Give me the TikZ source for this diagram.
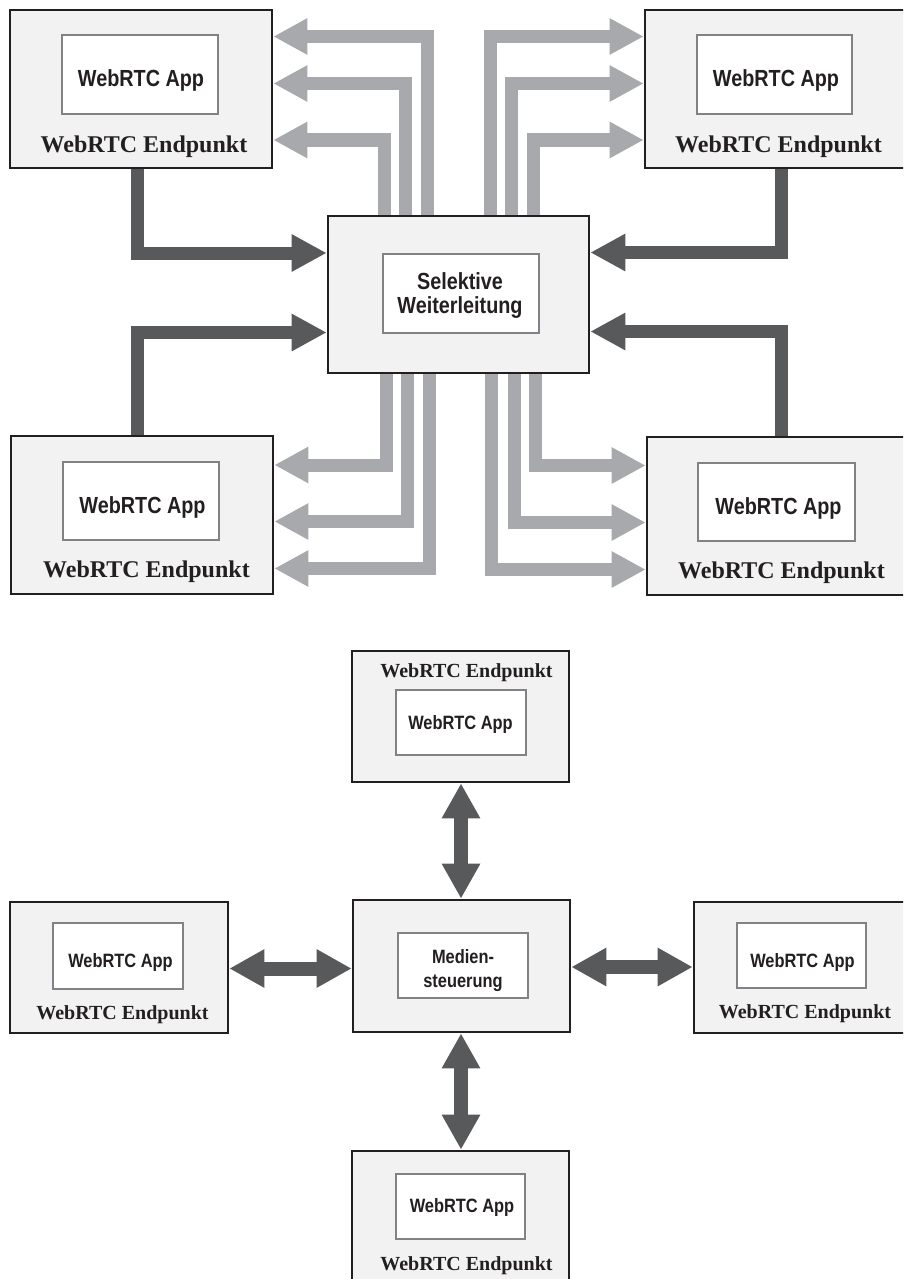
\documentclass[tikz,border=0pt]{standalone}
\usepackage{fontspec}
\setmainfont{Liberation Serif}
\newfontfamily\appfont{Liberation Sans}[FakeStretch=0.85]
\usetikzlibrary{arrows.meta}
\definecolor{edgec}{HTML}{231F20}
\definecolor{boxc}{HTML}{F2F2F2}
\definecolor{innerc}{HTML}{808285}
\definecolor{darkc}{HTML}{58595B}
\definecolor{greyc}{HTML}{A7A9AC}
\definecolor{txtc}{HTML}{231F20}
\begin{document}
\begin{tikzpicture}[x=1pt,y=-1pt,
  ep/.style={draw=edgec, line width=2.6pt, fill=boxc, inner sep=0pt},
  appbox/.style={draw=innerc, line width=1.2pt, fill=white, inner sep=0pt},
  eptxt/.style={anchor=base, inner sep=0pt, text=txtc, font=\bfseries\fontsize{24}{28}\selectfont},
  eptxts/.style={anchor=base, inner sep=0pt, text=txtc, font=\bfseries\fontsize{20}{24}\selectfont},
  aptxt/.style={anchor=base, inner sep=0pt, text=txtc, font=\appfont\bfseries\fontsize{23.3}{24}\selectfont},
  aptxts/.style={anchor=base, inner sep=0pt, text=txtc, font=\appfont\bfseries\fontsize{19.3}{23}\selectfont},
  dk/.style={draw=darkc, line width=13pt, line join=miter, -{Triangle[length=35pt,width=35pt]}},
  lg/.style={draw=greyc, line width=13pt, line join=miter, -{Triangle[length=34pt,width=34pt]}},
  dbl/.style={draw=darkc, line width=14pt, {Triangle[length=35pt,width=36pt]}-{Triangle[length=35pt,width=36pt]}}
]
\clip (0,0) rectangle (903,1279);
\fill[white] (0,0) rectangle (903,1279);

% ---------- top section ----------
\node[ep, minimum width=262pt, minimum height=158pt] (tl) at (141,89) {};
\node[appbox, minimum width=156pt, minimum height=79pt] (tla) at (140,74.5) {};
\node[aptxt] (tlat) at (141,87) {WebRTC App};
\node[eptxt] (tlt) at (144,152) {WebRTC Endpunkt};

\node[ep, minimum width=260pt, minimum height=158pt] (tr) at (775,89) {};
\node[appbox, minimum width=155pt, minimum height=79pt] (tra) at (774.5,74.5) {};
\node[aptxt] (trat) at (776,87) {WebRTC App};
\node[eptxt] (trt) at (778.5,152) {WebRTC Endpunkt};

\node[ep, minimum width=261pt, minimum height=157pt] (sel) at (458.5,294.5) {};
\node[appbox, minimum width=156pt, minimum height=79pt] (sela) at (461,293.5) {};
\node[inner sep=0pt, text=txtc, align=center, font=\appfont\bfseries\fontsize{23.3}{24}\selectfont] (selt) at (460,296) {Selektive\\Weiterleitung};

\node[ep, minimum width=262pt, minimum height=158pt] (bl) at (142,515) {};
\node[appbox, minimum width=156pt, minimum height=78pt] (bla) at (141,501) {};
\node[aptxt] (blat) at (142.5,513) {WebRTC App};
\node[eptxt] (blt) at (146.5,577) {WebRTC Endpunkt};

\node[ep, minimum width=259pt, minimum height=158pt] (br) at (776.5,516) {};
\node[appbox, minimum width=157pt, minimum height=78pt] (bra) at (776.5,502) {};
\node[aptxt] (brat) at (778.5,514) {WebRTC App};
\node[eptxt] (brt) at (781.5,578) {WebRTC Endpunkt};

% grey forwarding arrows
\coordinate (g1) at (427.5,36.5);
\coordinate (g2) at (405.5,83.5);
\coordinate (g3) at (384.5,140);
\coordinate (g4) at (490,36.5);
\coordinate (g5) at (511.5,83.5);
\coordinate (g6) at (533.5,140);
\coordinate (g7) at (386,465);
\coordinate (g8) at (407.5,521.5);
\coordinate (g9) at (429.5,568.5);
\coordinate (g10) at (535,465.5);
\coordinate (g11) at (514,522.5);
\coordinate (g12) at (491.5,569.5);
\draw[lg] (sel.north -| g1) |- (tl.east |- g1);
\draw[lg] (sel.north -| g2) |- (tl.east |- g2);
\draw[lg] (sel.north -| g3) |- (tl.east |- g3);
\draw[lg] (sel.north -| g4) |- (tr.west |- g4);
\draw[lg] (sel.north -| g5) |- (tr.west |- g5);
\draw[lg] (sel.north -| g6) |- (tr.west |- g6);
\draw[lg] (sel.south -| g7) |- (bl.east |- g7);
\draw[lg] (sel.south -| g8) |- (bl.east |- g8);
\draw[lg] (sel.south -| g9) |- (bl.east |- g9);
\draw[lg] (sel.south -| g10) |- (br.west |- g10);
\draw[lg] (sel.south -| g11) |- (br.west |- g11);
\draw[lg] (sel.south -| g12) |- (br.west |- g12);

% dark upstream arrows
\coordinate (k1) at (137,253);
\coordinate (k2) at (781,252.5);
\coordinate (k3) at (137,332.5);
\coordinate (k4) at (781,331.5);
\draw[dk] (tl.south -| k1) |- (sel.west |- k1);
\draw[dk] (tr.south -| k2) |- (sel.east |- k2);
\draw[dk] (bl.north -| k3) |- (sel.west |- k3);
\draw[dk] (br.north -| k4) |- (sel.east |- k4);

% ---------- bottom section ----------
\node[ep, minimum width=217pt, minimum height=131pt] (bt) at (460.5,716.5) {};
\node[appbox, minimum width=130pt, minimum height=65pt] (bta) at (461,722.5) {};
\node[eptxts] (btt) at (466.5,677) {WebRTC Endpunkt};
\node[aptxts] (btat) at (460.5,729) {WebRTC App};

\node[ep, minimum width=217pt, minimum height=132pt] (bc) at (461.5,966) {};
\node[appbox, minimum width=130pt, minimum height=65pt] (bca) at (463,965.5) {};
\node[inner sep=0pt, text=txtc, align=center, font=\appfont\bfseries\fontsize{19.3}{24}\selectfont] (bct) at (463,971) {Medien-\\steuerung};

\node[ep, minimum width=218pt, minimum height=131pt] (ble) at (119,967.5) {};
\node[appbox, minimum width=130pt, minimum height=66pt] (blea) at (118,956) {};
\node[aptxts] (bleat) at (120.5,967) {WebRTC App};
\node[eptxts] (blet) at (122.5,1019) {WebRTC Endpunkt};

\node[ep, minimum width=215pt, minimum height=131pt] (bri) at (801.5,967.5) {};
\node[appbox, minimum width=129pt, minimum height=65pt] (bria) at (801.5,955.5) {};
\node[aptxts] (briat) at (802.5,967) {WebRTC App};
\node[eptxts] (brit) at (805,1018) {WebRTC Endpunkt};

\node[ep, minimum width=217pt, minimum height=139pt] (bb) at (460.5,1220.5) {};
\node[appbox, minimum width=129pt, minimum height=65pt] (bba) at (460.5,1206.5) {};
\node[aptxts] (bbat) at (462,1212) {WebRTC App};
\node[eptxts] (bbt) at (466.5,1270) {WebRTC Endpunkt};

\coordinate (vx) at (461,0);
\coordinate (hy1) at (0,968.5);
\coordinate (hy2) at (0,967);
\draw[dbl] (bt.south -| vx) -- (bc.north -| vx);
\draw[dbl] (bc.south -| vx) -- (bb.north -| vx);
\draw[dbl] (ble.east |- hy1) -- (bc.west |- hy1);
\draw[dbl] (bc.east |- hy2) -- (bri.west |- hy2);
\end{tikzpicture}
\end{document}
